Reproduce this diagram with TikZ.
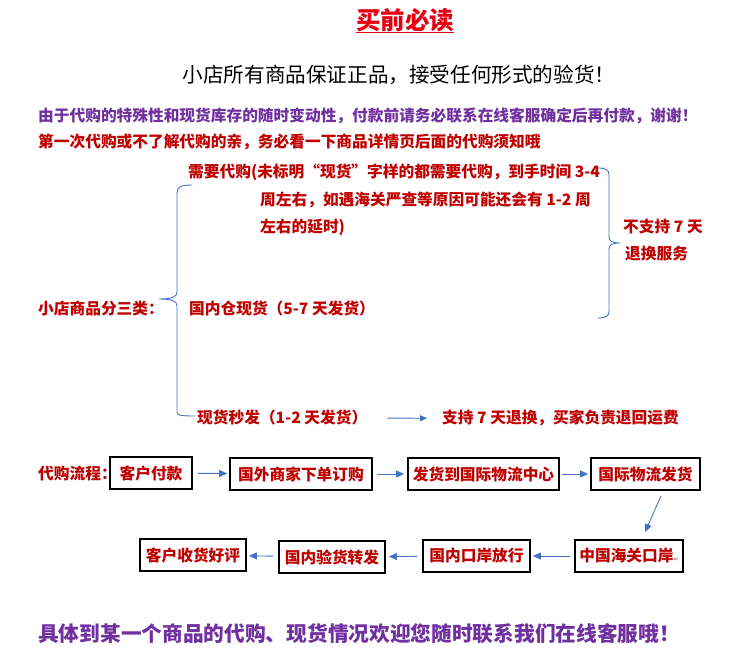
\documentclass[tikz,border=0pt]{standalone}
\usepackage{fontspec}
\setmainfont{Noto Sans CJK SC}
\newfontfamily\symf{DejaVu Sans}
\usetikzlibrary{arrows.meta}
\definecolor{dred}{RGB}{192,0,0}
\definecolor{tred}{RGB}{230,0,18}
\definecolor{ppl}{RGB}{112,48,160}
\definecolor{bblue}{RGB}{68,114,196}
\begin{document}
\begin{tikzpicture}[x=1pt,y=-1pt,
  txt/.style={inner sep=0pt, anchor=base west, font=\fontsize{15.7}{18}\selectfont\bfseries, text=dred},
  ptxt/.style={txt, text=ppl},
  flowbox/.style={draw=black, line width=1.8pt, inner sep=0pt, minimum height=32pt, text=dred, font=\fontsize{15.7}{18}\selectfont\bfseries},
  brace/.style={draw=bblue, line width=0.9pt},
  flowarrow/.style={draw=bblue, line width=0.9pt, -{Triangle[length=8pt,width=7pt]}}
]
\path[use as bounding box, fill=white] (0,0) rectangle (750,660);

% title
\node[inner sep=0pt, anchor=base, text=tred, font=\fontsize{24.5}{26}\selectfont\bfseries] (title) at (405,29.3) {买前必读};
\draw[tred, line width=1.4pt] ([yshift=-3pt]title.base west) -- ([yshift=-3pt]title.base east);
\node[inner sep=0pt, anchor=base, text=black, font=\fontsize{20.6}{22}\selectfont] (sub) at (399,82.8) {小店所有商品保证正品，接受任何形式的验货！};

\node[ptxt] (p1) at (38,122) {由于代购的特殊性和现货库存的随时变动性，付款前请务必联系在线客服确定后再付款，谢谢！};
\node[txt] (r1) at (38,148) {第一次代购或不了解代购的亲，务必看一下商品详情页后面的代购须知哦};

% categories
\node[txt] (c1a) at (188,178) {需要代购(未标明“现货”字样的都需要代购，到手时间 3-4};
\node[txt] (c1b) at (260,206) {周左右，如遇海关严查等原因可能还会有 1-2 周};
\node[txt] (c1c) at (260,233) {左右的延时)};
\node[txt] (ns1) at (623,233) {不支持 7 天};
\node[txt] (ns2) at (625,260) {退换服务};
\node[txt] (cat) at (38,315) {小店商品分三类：};
\node[txt] (c2) at (189,315) {国内仓现货（5-7 天发货）};
\node[txt] (c3) at (197,424) {现货秒发（1-2 天发货）};
\node[txt] (ret) at (442,424) {支持 7 天退换，买家负责退回运费};
\draw[flowarrow, -{Triangle[length=7pt,width=6pt]}, shorten <=20pt, shorten >=15pt] (c3) -- (ret);

% left brace
\draw[brace] (192,185) .. controls (181,185) and (177,187) .. (177,193)
  -- (177,292) .. controls (177,297) and (172,299) .. (159,299)
  .. controls (172,299) and (177,301) .. (177,306)
  -- (177,412) .. controls (177,415) and (179,416) .. (195,416);
% right brace
\draw[brace] (598,168) .. controls (606,168) and (609,170) .. (609,175)
  -- (609,237) .. controls (609,241) and (612,243) .. (620,243)
  .. controls (612,243) and (609,245) .. (609,249)
  -- (609,311) .. controls (609,316) and (606,318) .. (598,318);

% flow
\node[txt] (lc) at (38,479) {代购流程：};
\node[flowbox, minimum width=82pt] (b1) at (151,473) {客户付款};
\node[flowbox, minimum width=142pt] (b2) at (301,474) {国外商家下单订购};
\node[flowbox, minimum width=151pt] (b3) at (483.5,474) {发货到国际物流中心};
\node[flowbox, minimum width=109pt] (b4) at (645.5,474) {国际物流发货};
\node[flowbox, minimum width=108pt] (b5) at (629,556) {中国海关口岸{\symf\fontsize{6}{6}\selectfont\color{gray}↵}};
\node[flowbox, minimum width=107pt] (b6) at (476.5,556) {国内口岸放行};
\node[flowbox, minimum width=106pt] (b7) at (332,557) {国内验货转发};
\node[flowbox, minimum width=106pt] (b8) at (193,555) {客户收货好评};

\draw[flowarrow, shorten <=5pt, shorten >=2pt] (b1) -- (b2);
\draw[flowarrow, shorten <=4pt, shorten >=3pt] (b2) -- (b3);
\draw[flowarrow, shorten <=2pt, shorten >=2pt] (b3) -- (b4);
\draw[flowarrow] ([xshift=15.5pt, yshift=-5pt]b4.south) -- ([xshift=16pt, yshift=7pt]b5.north);
\draw[flowarrow, shorten <=4pt, shorten >=2pt] (b5) -- (b6);
\draw[flowarrow, shorten <=5pt, shorten >=3pt] (b6) -- (b7);
\draw[flowarrow, shorten <=5pt, shorten >=2pt] (b7) -- (b8);

% bottom
\node[ptxt, font=\fontsize{20.7}{22}\selectfont\bfseries] (bot) at (38,641) {具体到某一个商品的代购、现货情况欢迎您随时联系我们在线客服哦！};
\end{tikzpicture}
\end{document}
